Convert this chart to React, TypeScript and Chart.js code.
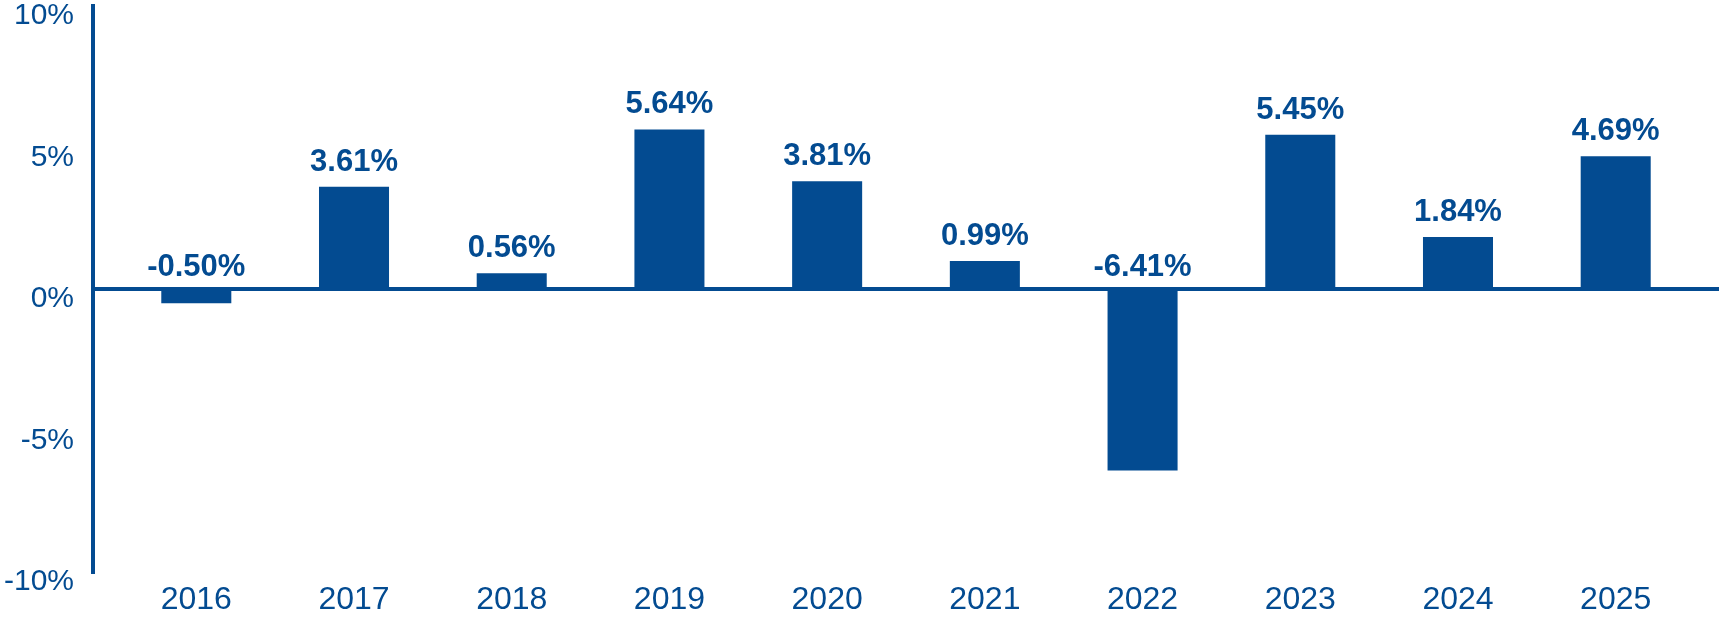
import React, { useEffect, useRef } from 'react';
import { Chart, registerables } from 'chart.js';

Chart.register(...registerables);

const years = ['2016', '2017', '2018', '2019', '2020', '2021', '2022', '2023', '2024', '2025'];
const returns = [-0.5, 3.61, 0.56, 5.64, 3.81, 0.99, -6.41, 5.45, 1.84, 4.69];
const yTicks = [-10, -5, 0, 5, 10];

const BLUE = '#034b91';
const FONT = '"Liberation Sans", Arial, Helvetica, sans-serif';

// draws the value above each bar (negative bars get it above the zero line)
const valueLabels = {
    id: 'valueLabels',
    afterDatasetsDraw(chart: any) {
        const { ctx } = chart;
        const meta = chart.getDatasetMeta(0);
        ctx.save();
        ctx.font = `bold 31px ${FONT}`;
        ctx.fillStyle = BLUE;
        ctx.textAlign = 'center';
        ctx.textBaseline = 'alphabetic';
        meta.data.forEach((bar: any, i: number) => {
            const v = returns[i];
            const { x, y, base } = bar.getProps(['x', 'y', 'base'], true);
            const ty = v >= 0 ? y - 16 : base - 15;
            ctx.fillText(v.toFixed(2) + '%', x, ty);
        });
        ctx.restore();
    },
};

function ReturnsChart() {
    const chartRef = useRef<HTMLCanvasElement | null>(null);
    const chartInstance = useRef<Chart | null>(null);

    useEffect(() => {
        document.body.style.margin = '0';
        if (!chartRef.current) return;
        if (chartInstance.current) {
            chartInstance.current.destroy();
        }

        chartInstance.current = new Chart(chartRef.current, {
            type: 'bar',
            data: {
                datasets: [
                    {
                        data: returns.map((v, i) => ({ x: i, y: v })),
                        backgroundColor: BLUE,
                        barPercentage: 0.444,
                        categoryPercentage: 1,
                    },
                ],
            },
            options: {
                animation: false,
                responsive: false,
                layout: { padding: { top: 6, right: 0, bottom: 0, left: 0 } },
                plugins: {
                    legend: { display: false },
                    tooltip: { enabled: false },
                },
                scales: {
                    x: {
                        type: 'linear',
                        offset: false,
                        min: -0.655,
                        max: 9.655,
                        grid: { display: false, drawTicks: false, offset: false },
                        border: { display: false },
                        ticks: {
                            stepSize: 1,
                            maxTicksLimit: 20,
                            includeBounds: false,
                            autoSkip: false,
                            maxRotation: 0,
                            padding: 9,
                            color: BLUE,
                            font: { family: FONT, size: 32 },
                            callback: (v: any) => (Number.isInteger(v) ? years[v] ?? '' : ''),
                        },
                        afterFit: (s: any) => {
                            s.height = 46;
                            s.paddingLeft = 0;
                            s.paddingRight = 0;
                        },
                    },
                    y: {
                        min: -10,
                        max: 10,
                        afterBuildTicks: (s: any) => {
                            s.ticks = yTicks.map(value => ({ value }));
                        },
                        ticks: {
                            padding: 19,
                            labelOffset: 10,
                            color: BLUE,
                            font: { family: FONT, size: 30 },
                            callback: (v: any) => v + '%',
                        },
                        grid: {
                            drawTicks: false,
                            lineWidth: 4,
                            color: (c: any) => (c.tick && c.tick.value === 0 ? BLUE : 'transparent'),
                        },
                        border: { display: true, color: BLUE, width: 4 },
                        afterFit: (s: any) => {
                            s.width = 93;
                            s.paddingTop = 0;
                            s.paddingBottom = 0;
                        },
                    },
                },
            },
            plugins: [valueLabels],
        });

        return () => {
            if (chartInstance.current) {
                chartInstance.current.destroy();
                chartInstance.current = null;
            }
        };
    }, []);

    return <canvas ref={chartRef} width={1719} height={618} style={{ display: 'block' }} />;
}

export default function App() {
    return <ReturnsChart />;
}
